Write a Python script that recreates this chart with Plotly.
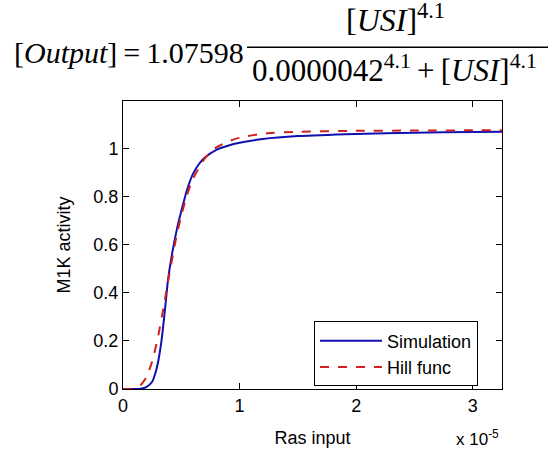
import plotly.graph_objects as go

# Ras input (x 1e-5) and M1K activity
sim_x = [0, 0.05, 0.10, 0.15, 0.20, 0.25, 0.28, 0.30, 0.33, 0.36, 0.385, 0.42, 0.46, 0.50,
         0.55, 0.60, 0.65, 0.70, 0.80, 0.90, 1.00, 1.20, 1.50, 2.00, 2.50, 3.00, 3.25]
sim_y = [0, 0, 0, 0.001, 0.008, 0.03, 0.07, 0.11, 0.20, 0.33, 0.45, 0.56, 0.66, 0.74,
         0.83, 0.895, 0.935, 0.962, 0.995, 1.012, 1.024, 1.040, 1.052, 1.061, 1.066, 1.069, 1.070]

hill_x = [0, 0.05, 0.10, 0.15, 0.20, 0.25, 0.30, 0.35, 0.40, 0.45, 0.50, 0.55, 0.60,
          0.70, 0.80, 0.90, 1.00, 1.20, 1.50, 2.00, 2.50, 3.00, 3.25]
hill_y = [0, 0.0002, 0.003, 0.016, 0.049, 0.115, 0.216, 0.346, 0.484, 0.614, 0.722, 0.808, 0.874,
          0.958, 1.005, 1.029, 1.046, 1.062, 1.070, 1.074, 1.075, 1.076, 1.076]

x_tick_vals = [0, 1, 2, 3]
x_tick_text = ["0", "1", "2", "3"]
y_tick_vals = [0, 0.2, 0.4, 0.6, 0.8, 1.0]
y_tick_text = ["0", "0.2", "0.4", "0.6", "0.8", "1"]

SCALE = 1e-5

fig = go.Figure()
fig.add_trace(go.Scatter(x=[v * SCALE for v in sim_x], y=sim_y, mode="lines", name="Simulation",
                         line=dict(color="#1010b0", width=2, shape="spline", smoothing=0.6)))
fig.add_trace(go.Scatter(x=[v * SCALE for v in hill_x], y=hill_y, mode="lines", name="Hill func",
                         line=dict(color="#d02020", width=2, dash="dash", shape="spline", smoothing=0.6)))

W, H = 548, 456
L, R, T, B = 123, 502, 101, 391
def px(X):
    return (X - L) / (R - L)
def py(Y):
    return (B - Y) / (B - T)

serif = "Liberation Serif, Times New Roman, serif"
sans = "Liberation Sans, Arial, sans-serif"

fig.update_layout(
    width=W, height=H,
    margin=dict(l=L, r=W - R, t=T, b=H - B, pad=0),
    paper_bgcolor="white", plot_bgcolor="white",
    font=dict(family=sans, size=18, color="black"),
    showlegend=True,
    legend=dict(x=px(314), y=py(323), xanchor="left", yanchor="top",
                bordercolor="black", borderwidth=1, bgcolor="white",
                font=dict(family=sans, size=18, color="black"),
                itemwidth=62, tracegroupgap=2),
    xaxis=dict(range=[0, 3.25 * SCALE], tickvals=[v * SCALE for v in x_tick_vals], ticktext=x_tick_text,
               ticks="inside", ticklen=6, tickcolor="black", showline=True, linecolor="black",
               linewidth=1, mirror="ticks", showgrid=False, zeroline=False,
               tickfont=dict(size=18), title=dict(text="Ras input", font=dict(size=18), standoff=16)),
    yaxis=dict(range=[0, 1.198], tickvals=y_tick_vals, ticktext=y_tick_text,
               ticks="inside", ticklen=6, tickcolor="black", showline=True, linecolor="black",
               linewidth=1, mirror="ticks", showgrid=False, zeroline=False,
               tickfont=dict(size=18), title=dict(text="M1K activity", font=dict(size=18), standoff=18)),
)

fig.add_annotation(xref="paper", yref="paper", x=px(501), y=py(440), xanchor="right", yanchor="middle",
                   text="x 10<sup>-5</sup>", showarrow=False, font=dict(family=sans, size=17))

# equation
fig.add_annotation(xref="paper", yref="paper", x=px(12), y=py(52), xanchor="left", yanchor="middle",
                   text="[<i>Output</i>]\u2009=\u20091.07598", showarrow=False, font=dict(family=serif, size=30))
fig.add_annotation(xref="paper", yref="paper", x=px(395), y=py(17), xanchor="center", yanchor="middle",
                   text="[<i>USI</i>]<sup>4.1</sup>", showarrow=False, font=dict(family=serif, size=32))
fig.add_annotation(xref="paper", yref="paper", x=px(250), y=py(68), xanchor="left", yanchor="middle",
                   text="0.0000042<sup>4.1</sup>\u2009+\u2009[<i>USI</i>]<sup>4.1</sup>", showarrow=False,
                   font=dict(family=serif, size=31))
fig.add_shape(type="line", xref="paper", yref="paper", x0=px(247), x1=px(548), y0=py(47), y1=py(47),
              line=dict(color="black", width=1.5))

fig.write_html("out.html", config={"displayModeBar": False},
               post_script="document.body.style.margin='0px';")
